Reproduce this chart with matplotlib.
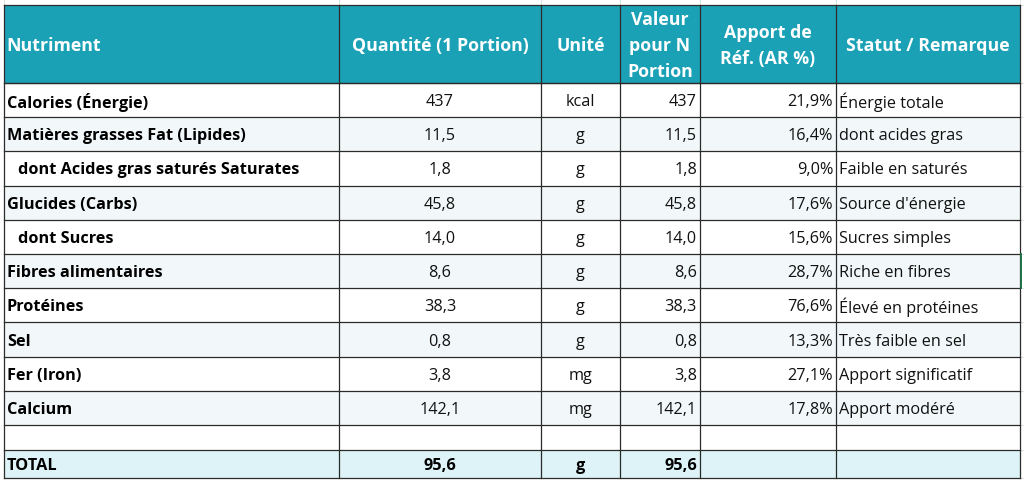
import matplotlib
matplotlib.use("Agg")
import matplotlib.pyplot as plt
from matplotlib.patches import Rectangle

plt.rcParams['font.family'] = ['Open Sans', 'DejaVu Sans']

# ---- data ----
headers = ["Nutriment", "Quantité (1 Portion)", "Unité", "Valeur\npour N\nPortion",
           "Apport de\nRéf. (AR %)", "Statut / Remarque"]
nutrients = ["Calories (Énergie)", "Matières grasses Fat (Lipides)",
             "dont Acides gras saturés Saturates", "Glucides (Carbs)", "dont Sucres",
             "Fibres alimentaires", "Protéines", "Sel", "Fer (Iron)", "Calcium"]
sub_rows = [False, False, True, False, True, False, False, False, False, False]
quantities = ["437", "11,5", "1,8", "45,8", "14,0", "8,6", "38,3", "0,8", "3,8", "142,1"]
units = ["kcal", "g", "g", "g", "g", "g", "g", "g", "mg", "mg"]
values_n = ["437", "11,5", "1,8", "45,8", "14,0", "8,6", "38,3", "0,8", "3,8", "142,1"]
ar_pct = ["21,9%", "16,4%", "9,0%", "17,6%", "15,6%", "28,7%", "76,6%", "13,3%", "27,1%", "17,8%"]
remarks = ["Énergie totale", "dont acides gras", "Faible en saturés", "Source d'énergie",
           "Sucres simples", "Riche en fibres", "Élevé en protéines", "Très faible en sel",
           "Apport significatif", "Apport modéré"]
total_label = "TOTAL"
total_qty = "95,6"
total_unit = "g"
total_val = "95,6"

# ---- layout (pixels) ----
W, H = 1024, 481
col_edges = [4, 339, 541, 620, 700, 836, 1020]
header_top, header_bot = 6, 84
row_h = 34.2
empty_h = 25
HEADER_C = "#1AA1B6"
ALT_C = "#F2F8F9"
TOTAL_C = "#DDF3F7"
LINE_C = "#2b2b2b"
FS = 11.7
HFS = 12.8

fig = plt.figure(figsize=(W / 100, H / 100), dpi=100)
ax = fig.add_axes([0, 0, 1, 1])
ax.set_xlim(0, W)
ax.set_ylim(H, 0)
ax.axis("off")

# faint spreadsheet gridlines outside table
for x in col_edges:
    ax.plot([x, x], [0, header_top], color="#e3e3e3", lw=0.7, zorder=0)
row_tops = [header_bot + i * row_h for i in range(len(nutrients) + 1)]
empty_top = row_tops[-1]
total_top = empty_top + empty_h
total_bot = 479
for y in [header_top, header_bot] + row_tops + [total_top, total_bot]:
    ax.plot([col_edges[-1], W], [y, y], color="#e3e3e3", lw=0.7, zorder=0)

# header
ax.add_patch(Rectangle((col_edges[0], header_top), col_edges[-1] - col_edges[0],
                       header_bot - header_top, facecolor=HEADER_C, edgecolor="none", zorder=1))
hy = (header_top + header_bot) / 2 + 1
for j, h in enumerate(headers):
    if j == 0:
        ax.text(col_edges[0] + 2, hy, h, ha="left", va="center", color="white",
                fontsize=HFS, fontweight="bold", linespacing=1.55, zorder=3)
    else:
        cx = (col_edges[j] + col_edges[j + 1]) / 2
        ax.text(cx, hy, h, ha="center", va="center", color="white", fontsize=HFS,
                fontweight="bold", linespacing=1.55, multialignment="center", zorder=3)

# body rows
for i in range(len(nutrients)):
    top = row_tops[i]
    if i % 2 == 1:
        ax.add_patch(Rectangle((col_edges[0], top), col_edges[-1] - col_edges[0], row_h,
                               facecolor=ALT_C, edgecolor="none", zorder=1))
    cy = top + row_h / 2 + 1
    indent = 14 if sub_rows[i] else 3
    ax.text(col_edges[0] + indent, cy, nutrients[i], ha="left", va="center",
            fontsize=FS, fontweight="bold", color="black", zorder=3)
    ax.text((col_edges[1] + col_edges[2]) / 2, cy, quantities[i], ha="center", va="center",
            fontsize=FS, color="#111", zorder=3)
    ax.text((col_edges[2] + col_edges[3]) / 2, cy, units[i], ha="center", va="center",
            fontsize=FS, color="#111", zorder=3)
    ax.text(col_edges[4] - 3, cy, values_n[i], ha="right", va="center",
            fontsize=FS, color="#111", zorder=3)
    ax.text(col_edges[5] - 3, cy, ar_pct[i], ha="right", va="center",
            fontsize=FS, color="#111", zorder=3)
    ax.text(col_edges[5] + 3, cy, remarks[i], ha="left", va="center",
            fontsize=FS, color="#111", zorder=3)

# total row
ax.add_patch(Rectangle((col_edges[0], total_top), col_edges[-1] - col_edges[0],
                       total_bot - total_top, facecolor=TOTAL_C, edgecolor="none", zorder=1))
ty = (total_top + total_bot) / 2 + 1
ax.text(col_edges[0] + 3, ty, total_label, ha="left", va="center", fontsize=FS,
        fontweight="bold", color="black", zorder=3)
ax.text((col_edges[1] + col_edges[2]) / 2, ty, total_qty, ha="center", va="center",
        fontsize=FS, fontweight="bold", color="black", zorder=3)
ax.text((col_edges[2] + col_edges[3]) / 2, ty, total_unit, ha="center", va="center",
        fontsize=FS, fontweight="bold", color="black", zorder=3)
ax.text(col_edges[4] - 3, ty, total_val, ha="right", va="center",
        fontsize=FS, fontweight="bold", color="black", zorder=3)

# grid lines
lw = 0.9
for y in [header_top, header_bot] + row_tops + [total_top, total_bot]:
    ax.plot([col_edges[0], col_edges[-1]], [y, y], color=LINE_C, lw=lw, zorder=4)
for x in col_edges:
    ax.plot([x, x], [header_top, total_bot], color=LINE_C, lw=lw, zorder=4)

# selected-cell marker outside the table
ax.plot([col_edges[-1] + 1, col_edges[-1] + 1], [row_tops[5], row_tops[6]],
        color="#1e7145", lw=1.4, zorder=5)

fig.savefig("out.png", dpi=100)
